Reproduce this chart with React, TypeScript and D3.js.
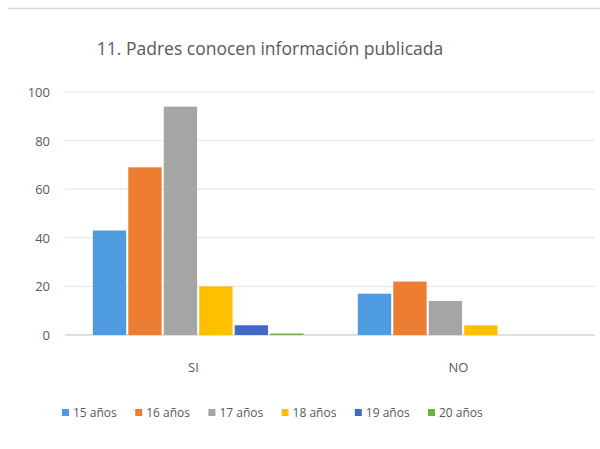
import React from "react";
import * as d3 from "d3";

const categories = ["SI", "NO"];
const seriesNames = ["15 años", "16 años", "17 años", "18 años", "19 años", "20 años"];
const siValues = [43, 69, 94, 20, 4, 0.6];
const noValues = [17, 22, 14, 4, 0, 0];
const colors = ["#4F9BDF", "#ED7D31", "#A5A5A5", "#FFC000", "#4169C8", "#70AD47"];
const yTicks = [0, 20, 40, 60, 80, 100];
const title = "11. Padres conocen información publicada";

const W = 600;
const H = 449;
const plot = { left: 65, right: 595, top: 92, bottom: 335 };

export default function App() {
  const values: Record<string, number[]> = { SI: siValues, NO: noValues };
  const y = d3.scaleLinear().domain([0, 100]).range([plot.bottom, plot.top]);
  const x0 = d3.scaleBand<string>().domain(categories).range([plot.left, plot.right]).padding(0);
  const bw = x0.bandwidth();
  const x1 = d3
    .scaleBand<string>()
    .domain(seriesNames)
    .range([bw * 0.105, bw * 0.9])
    .paddingInner(0.06);
  const font = "Open Sans, Noto Sans, sans-serif";
  const legendX = d3.scalePoint<string>().domain(seriesNames).range([62, 428]);

  return (
    <svg width={W} height={H} style={{ position: "absolute", left: 0, top: 0, background: "#fff" }}>
      <rect x={0} y={0} width={W} height={H} fill="#fff" />
      <line x1={8} x2={W} y1={8.5} y2={8.5} stroke="#d9d9d9" strokeWidth={1.5} />
      <text x={270} y={55} textAnchor="middle" fontFamily={font} fontSize={17.5} fill="#595959">
        {title}
      </text>
      {yTicks.map((t) => (
        <g key={t}>
          <line x1={plot.left} x2={plot.right} y1={y(t)} y2={y(t)} stroke="#e3e3e3" strokeWidth={1} />
          <text x={50} y={y(t) + 5} textAnchor="end" fontFamily={font} fontSize={13} fill="#595959">
            {t}
          </text>
        </g>
      ))}
      <line x1={plot.left} x2={plot.right} y1={y(0)} y2={y(0)} stroke="#d0d0d0" strokeWidth={1} />
      {categories.map((c) => (
        <g key={c} transform={`translate(${x0(c)},0)`}>
          {seriesNames.map((s, i) => {
            const v = values[c][i];
            if (v <= 0) return null;
            return (
              <rect
                key={s}
                x={x1(s)}
                y={y(v)}
                width={x1.bandwidth()}
                height={y(0) - y(v)}
                fill={colors[i]}
              />
            );
          })}
          <text
            x={bw / 2 - 4}
            y={372}
            textAnchor="middle"
            fontFamily={font}
            fontSize={13}
            fill="#595959"
          >
            {c}
          </text>
        </g>
      ))}
      {seriesNames.map((s, i) => (
        <g key={s} transform={`translate(${legendX(s)},0)`}>
          <rect x={0} y={409} width={7} height={7} fill={colors[i]} />
          <text x={11} y={417} fontFamily={font} fontSize={12} fill="#595959">
            {s}
          </text>
        </g>
      ))}
    </svg>
  );
}
